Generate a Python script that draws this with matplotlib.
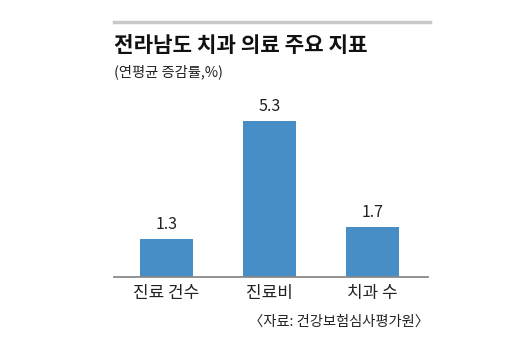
import matplotlib.pyplot as plt
from matplotlib.lines import Line2D

plt.rcParams['font.family'] = ['Noto Sans CJK KR', 'DejaVu Sans']

categories = ['진료 건수', '진료비', '치과 수']
values = [1.3, 5.3, 1.7]
value_labels = ['1.3', '5.3', '1.7']

W, H = 529, 352
fig = plt.figure(figsize=(W / 100, H / 100), dpi=100)

# axes: x 114..428 px, baseline at y=277 px, top at y=100 px
ax = fig.add_axes([114 / W, 1 - 277 / H, (428 - 114) / W, (277 - 100) / H])
x = list(range(len(categories)))
ax.bar(x, values, width=0.515, color='#478dc6', zorder=2)
ax.set_xlim(-0.51, 2.54)
ax.set_ylim(0, 177 / 29.4)
for xi, v, lab in zip(x, values, value_labels):
    ax.annotate(lab, (xi, v), xytext=(0, 4.5), textcoords='offset points',
                ha='center', va='bottom', fontsize=11.5, color='#222222')
for s in ['top', 'right', 'left']:
    ax.spines[s].set_visible(False)
ax.spines['bottom'].set_color('#8a8a8a')
ax.spines['bottom'].set_linewidth(1.3)
ax.set_yticks([])
ax.set_xticks(x)
ax.set_xticklabels(categories, fontsize=12.2, color='#222222')
ax.tick_params(axis='x', length=0, pad=5)

# top gray rule
fig.add_artist(Line2D([114 / W, 430 / W], [1 - 22 / H, 1 - 22 / H],
                      color='#c8c8c8', linewidth=2.5))

fig.text(114 / W, 1 - 45 / H, '전라남도 치과 의료 주요 지표', fontsize=15.3,
         fontweight='bold', ha='left', va='center', color='#111111')
fig.text(114 / W, 1 - 72 / H, '(연평균 증감률,%)', fontsize=10.3,
         ha='left', va='center', color='#222222')
fig.text(429 / W, 1 - 322 / H, '〈자료: 건강보험심사평가원〉', fontsize=10.3,
         ha='right', va='center', color='#222222')

fig.savefig('out.png', dpi=100)
